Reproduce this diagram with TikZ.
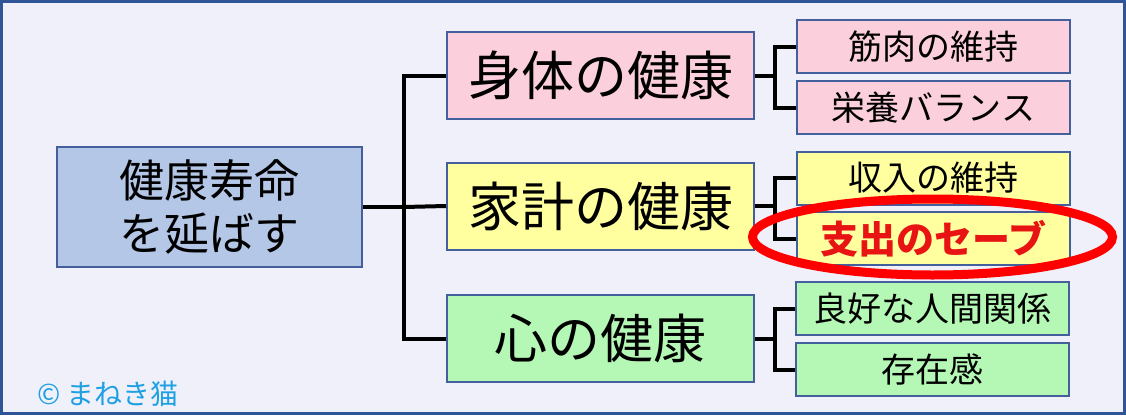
\documentclass[tikz,border=0pt]{standalone}
\usepackage{fontspec}
\setmainfont{Noto Sans CJK JP}
\usetikzlibrary{calc,shapes.geometric}
\definecolor{bgc}{HTML}{F0F0FA}
\definecolor{framec}{HTML}{2F5597}
\definecolor{edgec}{HTML}{44609C}
\definecolor{bluec}{HTML}{B4C7E7}
\definecolor{pinkc}{HTML}{FBD0DC}
\definecolor{yellowc}{HTML}{FFFF9F}
\definecolor{greenc}{HTML}{B5F7B5}
\definecolor{redc}{HTML}{FF0000}
\definecolor{textred}{HTML}{E81414}
\definecolor{copyc}{HTML}{1FA0E3}
\begin{document}
\begin{tikzpicture}[x=1pt,y=-1pt,
  box/.style={draw=edgec, line width=2pt, rectangle, inner sep=0pt, anchor=center},
  mainbox/.style={box, fill=bluec, minimum width=305pt, minimum height=120pt, align=center, font=\fontsize{45}{53}\selectfont},
  midbox/.style={box, minimum width=307pt, minimum height=87pt, font=\fontsize{53}{60}\selectfont},
  leafbox/.style={box, minimum width=273pt, minimum height=53pt, font=\fontsize{34}{40}\selectfont},
  conn/.style={line width=4pt, black},
]
\useasboundingbox (0,0) rectangle (1126,415);
\draw[fill=bgc, draw=framec, line width=3pt] (1.5,1.5) rectangle (1124.5,413.5);

\node[mainbox] (m) at (209.5,207) {健康寿命\\を延ばす};

\node[midbox, fill=pinkc] (b1) at (600.5,75.5) {身体の健康};
\node[midbox, fill=yellowc] (b2) at (600.5,206) {家計の健康};
\node[midbox, fill=greenc] (b3) at (600.5,338.5) {心の健康};

\node[leafbox, fill=pinkc] (c1) at (933.5,46.5) {筋肉の維持};
\node[leafbox, fill=pinkc] (c2) at (933.5,107.5) {栄養バランス};
\node[leafbox, fill=yellowc] (c3) at (933.5,178) {収入の維持};
\node[leafbox, fill=yellowc, text=textred, font=\fontsize{38}{40}\selectfont\bfseries] (c4) at (933.5,238.5) {支出のセーブ};
\node[leafbox, fill=greenc] (c5) at (932.5,308.5) {良好な人間関係};
\node[leafbox, fill=greenc] (c6) at (932.5,369.5) {存在感};

\coordinate (j0) at (404,207);
\draw[conn] (m.east) -- (j0);
\draw[conn] (b1.west) -| (j0) |- (b3.west);
\draw[conn] (j0) -- (b2.west);

\coordinate (j1) at (775,77);
\coordinate (j2) at (775,208);
\coordinate (j3) at (775,339);
\draw[conn] (b1.east) -- (b1.east -| j1);
\draw[conn] (c1.west) -| (j1) |- (c2.west);
\draw[conn] (b2.east) -- (b2.east -| j2);
\draw[conn] (c3.west) -| (j2) |- (c4.west);
\draw[conn] (b3.east) -- (b3.east -| j3);
\draw[conn] (c5.west) -| (j3) |- (c6.west);

\node[draw=redc, line width=9pt, ellipse, inner sep=0pt, minimum width=360pt, minimum height=76pt] (ov) at (932.5,237) {};

\node[text=copyc, font=\fontsize{28}{30}\selectfont, anchor=west, inner sep=0pt] (cp) at (37,394) {© まねき猫};
\end{tikzpicture}
\end{document}
